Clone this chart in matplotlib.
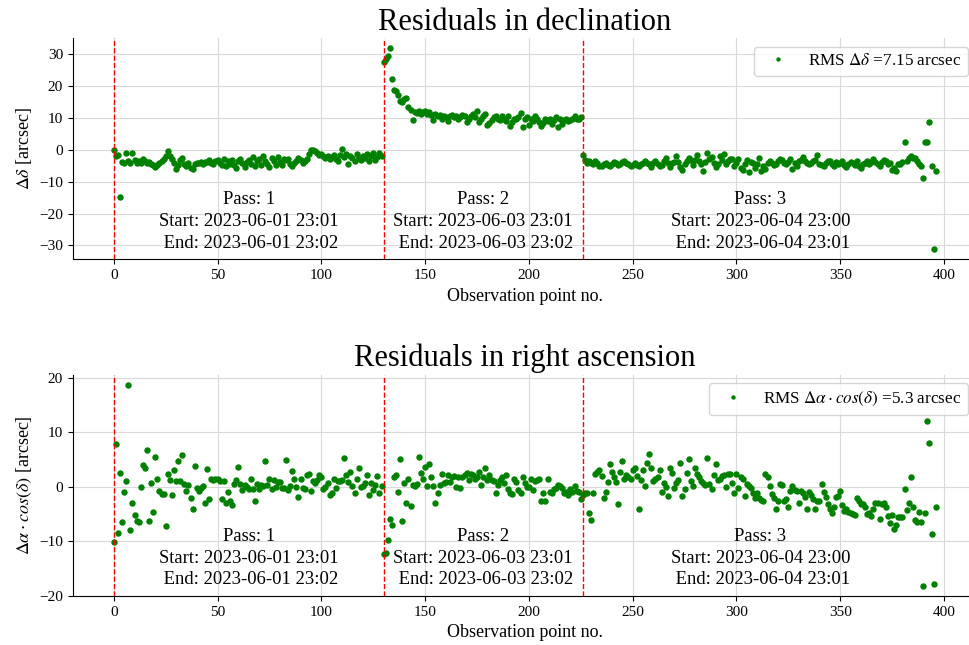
import numpy as np
import matplotlib
matplotlib.use('Agg')
import matplotlib.pyplot as plt
from matplotlib.ticker import MultipleLocator

plt.rcParams['font.family'] = ['Liberation Serif', 'DejaVu Serif']
plt.rcParams['mathtext.fontset'] = 'stix'

# pass boundaries (observation index where each pass starts)
pass_starts = [0, 130, 226]
pass_names = ['1', '2', '3']
pass_start_times = ['2023-06-01 23:01', '2023-06-03 23:01', '2023-06-04 23:00']
pass_end_times = ['2023-06-01 23:02', '2023-06-03 23:02', '2023-06-04 23:01']

# residuals in declination [arcsec]
dec_pass1 = [0.0, -2.1, -1.6, -14.8, -3.8, -4.3, -0.9, -3.6, -4.0, -1.0,
             -3.2, -4.2, -3.6, -4.0, -3.0, -3.4, -4.1, -3.7, -4.4, -4.8,
             -5.5, -4.8, -4.1, -3.6, -3.0, -1.8, -0.4, -2.0, -2.8, -4.0,
             -5.9, -4.9, -3.2, -2.5, -4.4, -5.0, -4.2, -5.8, -6.0, -4.6,
             -4.1, -4.3, -3.8, -4.5, -3.9, -3.7, -3.3, -4.0, -4.4, -3.6,
             -3.3, -4.2, -4.7, -3.0, -5.0, -3.5, -4.6, -3.2, -4.8, -5.6,
             -3.5, -2.9, -4.2, -5.3, -3.8, -3.1, -4.5, -2.4, -5.0, -3.4,
             -2.8, -4.8, -1.8, -3.6, -4.6, -5.5, -2.6, -3.5, -4.8, -2.3,
             -3.7, -4.9, -2.8, -3.3, -3.0, -4.5, -5.0, -4.2, -3.5, -2.7,
             -3.2, -4.0, -3.6, -2.8, -1.2, -0.2, 0.0, -0.5, -0.9, -1.5,
             -1.2, -2.1, -2.6, -1.8, -3.0, -2.4, -1.5, -2.8, -3.4, -1.6,
             0.3, -2.2, -1.3, -4.5, -2.0, -2.7, -3.6, -1.2, -2.5, -3.2,
             -1.8, -2.6, -1.4, -3.6, -2.0, -1.1, -3.1, -2.4, -1.0, -1.9]
dec_pass2 = [27.4, 28.5, 29.3, 31.9, 22.2, 18.8, 18.5, 17.2, 15.4, 15.1,
             15.9, 16.1, 13.3, 12.5, 9.4, 11.9, 11.5, 12.3, 11.2, 11.7,
             12.3, 11.2, 11.7, 10.9, 9.4, 11.2, 10.5, 10.9, 9.8, 10.5,
             10.2, 9.1, 10.5, 10.9, 10.2, 10.5, 9.6, 10.2, 10.9, 10.5,
             8.6, 9.8, 10.5, 11.2, 10.2, 12.3, 8.6, 9.6, 10.5, 11.2,
             7.7, 8.4, 9.4, 10.2, 10.5, 9.8, 9.4, 10.5, 9.6, 9.1,
             10.5, 7.5, 8.6, 9.6, 9.8, 10.2, 11.5, 7.0, 9.6, 10.2,
             7.7, 9.8, 9.1, 10.5, 9.8, 8.8, 7.5, 8.4, 9.6, 9.1,
             9.8, 8.1, 9.4, 10.2, 7.0, 9.6, 8.1, 9.4, 9.8, 9.1,
             9.4, 9.6, 10.5, 9.6, 9.6, 10.2]
dec_pass3 = [-1.7, -3.3, -4.0, -3.5, -4.2, -4.6, -3.6, -4.3, -5.0, -5.1,
             -4.6, -4.2, -4.8, -5.0, -4.4, -3.8, -4.2, -4.9, -4.5, -3.9,
             -3.5, -4.2, -4.6, -5.0, -4.7, -4.3, -4.8, -5.2, -4.5, -4.1,
             -3.6, -4.0, -4.6, -5.4, -4.2, -3.6, -4.4, -5.1, -4.8, -3.4,
             -2.5, -4.2, -5.5, -4.0, -3.7, -1.9, -3.8, -5.5, -6.3, -4.4,
             -3.4, -2.7, -3.2, -4.8, -3.3, -1.5, -3.5, -4.5, -6.6, -3.8,
             -1.0, -2.8, -2.2, -4.2, -5.3, -4.4, -2.1, -3.2, -1.4, -4.6,
             -3.5, -2.8, -2.9, -5.0, -4.2, -3.0, -5.6, -6.3, -4.6, -3.3,
             -6.9, -3.7, -4.3, -5.8, -4.4, -2.7, -6.6, -5.0, -5.9, -4.2,
             -3.5, -4.2, -4.8, -4.4, -3.5, -2.9, -3.3, -4.0, -4.6, -3.7,
             -3.0, -6.1, -4.1, -5.2, -3.6, -3.1, -2.4, -3.5, -4.0, -4.6,
             -4.3, -3.4, -3.1, -1.7, -4.4, -4.7, -5.0, -4.2, -3.4, -3.6,
             -4.5, -5.1, -3.9, -4.6, -4.2, -3.5, -4.9, -5.4, -4.4, -3.9,
             -4.2, -4.8, -3.6, -5.1, -5.8, -4.6, -4.0, -3.5, -4.5, -3.8,
             -3.0, -3.9, -4.5, -5.0, -3.8, -3.3, -3.6, -4.4, -4.0, -6.4,
             -5.8, -6.6, -4.5, -4.6, -3.9, 2.3, -3.4, -2.7, -1.9, -2.5,
             -2.6, -3.6, -4.4, -5.2, -9.0, 2.5, 2.3, 8.8, -5.2, -31.2,
             -6.6]

# residuals in right ascension * cos(dec) [arcsec]
ra_pass1 = [-10.2, 7.9, -8.4, 2.6, -6.5, -1.0, 1.0, 18.7, -7.9, -3.0,
            -5.1, -6.2, -6.5, -0.1, 4.0, 3.5, 6.8, -6.2, 0.7, -4.6,
            5.5, 1.5, -0.8, -1.4, -1.4, -7.2, 2.3, 1.3, -1.5, 3.0,
            1.1, 4.8, 1.0, 5.8, 0.5, -0.8, 0.3, -2.0, -4.1, 3.8,
            -0.3, -0.7, -0.2, 0.1, -3.0, 3.2, -2.3, 1.5, 1.2, 1.5,
            1.5, 1.1, -2.3, 1.0, -3.0, -1.0, -2.7, -3.4, 0.5, 1.3,
            3.7, 0.5, -0.6, 0.3, -0.1, -0.5, 1.5, -0.5, -2.6, 0.5,
            -0.5, 0.3, 0.1, 4.8, 0.3, 1.5, -0.5, 1.3, 0.0, 0.9,
            0.9, -0.3, -0.2, 4.9, -0.6, 0.1, 2.9, 1.5, 0.0, -1.8,
            1.4, -0.3, -0.5, 2.1, 2.4, -0.8, 1.1, 0.6, 1.3, 2.1,
            1.7, -0.5, 0.0, 0.6, -1.5, -1.2, 1.5, -0.2, 1.1, 1.0,
            1.2, 5.3, 2.1, 0.9, 2.7, 0.1, -1.1, 1.5, 3.4, 0.0,
            0.1, 0.7, 2.1, -1.5, 0.6, -0.6, 0.4, 2.0, -1.2, 0.2]
ra_pass2 = [-12.4, -12.1, -9.8, -6.0, -7.1, 1.8, 2.1, -0.9, 5.1, -6.3,
            0.7, -2.9, 1.4, -3.5, 0.3, 0.1, 0.5, 5.4, 2.6, 1.5,
            3.7, 0.1, 4.1, 1.8, 0.1, -3.0, -1.1, 0.3, 2.4, 0.6,
            0.9, 2.1, 0.9, 1.7, 2.0, 0.0, 1.7, -0.2, 1.8, 2.1,
            2.6, 1.3, 2.4, 2.1, 1.5, 1.8, 2.7, 0.3, 1.8, 3.5,
            1.2, 2.1, 1.2, 1.1, -1.1, 0.3, 1.3, 1.7, 0.7, 2.1,
            -0.5, -1.1, -1.3, 1.5, 0.9, -0.6, -1.1, 1.7, 0.6, -0.1,
            0.0, 1.5, -0.6, 1.1, 1.3, 1.5, -2.6, -1.1, -2.6, 1.5,
            -0.9, -1.1, -0.5, -0.3, 0.3, 0.1, -0.3, -1.2, -0.9, -1.5,
            -0.5, -0.9, 0.1, -0.8, -0.9, -2.3]
ra_pass3 = [-1.5, -1.1, -1.2, -4.8, -6.1, -1.2, 2.4, 2.7, 3.0, 2.0,
            -2.0, -0.9, 0.9, 4.1, 2.7, 1.8, 0.9, -3.2, 2.7, 4.8,
            1.4, 2.1, 1.7, 1.5, 3.0, 3.4, 2.0, -4.0, 1.3, 3.0,
            0.1, 4.4, 6.0, 3.5, 1.1, 1.5, 1.8, 3.0, -1.0, 0.6,
            0.0, -1.7, 3.5, 2.6, -0.3, 0.7, 1.3, 4.4, -1.7, -0.5,
            2.6, 5.0, 1.1, 0.1, 3.4, 2.3, 1.7, 1.1, 0.7, 0.3,
            5.2, 0.5, -0.5, 2.1, 4.1, 1.2, 1.5, 2.0, 2.1, -0.1,
            2.3, 2.4, 0.6, -1.1, 2.4, -0.3, 1.8, 1.5, -1.7, 0.5,
            0.1, -0.3, -1.1, -2.0, -1.1, -2.1, -2.4, -2.7, 2.4, 1.7,
            0.1, -1.3, -2.1, -4.1, -2.6, 0.5, 0.3, -2.7, -2.3, -3.7,
            -0.7, 0.1, -0.6, -0.7, -2.9, -0.7, -1.1, -1.8, -4.0, -0.9,
            -1.5, -2.3, -4.1, -2.6, -2.6, 0.5, -0.9, -1.8, -3.2, -4.0,
            -4.9, -3.7, -1.8, -1.7, -0.8, -3.4, -4.4, -4.1, -4.6, -4.9,
            -5.0, -5.2, -2.0, -2.7, -3.2, -3.2, -3.7, -5.0, -4.8, -5.4,
            -4.0, -2.9, -3.0, -6.0, -3.2, -2.9, -3.7, -5.4, -6.6, -5.2,
            -7.8, -7.0, -5.6, -5.5, -5.5, -0.5, -4.3, -2.9, 1.7, -3.8,
            -6.1, -6.4, -4.6, -6.4, -18.2, -4.9, 12.1, 8.0, -8.7, -17.8,
            -3.7]

dec_rms = '7.15'
ra_rms = '5.3'


def draw_panel(ax, values, title, ylabel, legend_label):
    idx = np.arange(len(values))
    ax.plot(idx, values, 'o', color='green', ms=3.6, label=legend_label)
    for k, start in enumerate(pass_starts):
        ax.axvline(start, color='red', ls='--', lw=1)
        end = pass_starts[k + 1] if k + 1 < len(pass_starts) else len(values)
        txt = 'Pass: %s\nStart: %s\n End: %s' % (pass_names[k], pass_start_times[k], pass_end_times[k])
        ax.text((start + end) / 2, 0.035, txt, transform=ax.get_xaxis_transform(),
                ha='center', va='bottom', fontsize=13.4, linespacing=1.35)
    ax.set_xlim(-19.8, 415.8)
    ax.set_title(title, fontsize=22)
    ax.set_xlabel('Observation point no.', fontsize=13)
    ax.set_ylabel(ylabel, fontsize=13)
    ax.tick_params(labelsize=11)
    ax.grid(True, color='#d9d9d9', lw=0.8)
    ax.set_axisbelow(True)
    ax.spines['top'].set_visible(False)
    ax.spines['right'].set_visible(False)
    ax.legend(loc='upper right', fontsize=12.3, markerscale=0.6)


fig = plt.figure(figsize=(9.69, 6.45), dpi=100)
ax1 = fig.add_axes([0.075, 0.598, 0.933, 0.343])
ax2 = fig.add_axes([0.075, 0.076, 0.933, 0.343])

dec = dec_pass1 + dec_pass2 + dec_pass3
ra = ra_pass1 + ra_pass2 + ra_pass3

draw_panel(ax1, dec, 'Residuals in declination', r'$\Delta\delta$ [arcsec]',
           r'RMS $\Delta\delta$ =' + dec_rms + ' arcsec')
ax1.yaxis.set_major_locator(MultipleLocator(10))
draw_panel(ax2, ra, 'Residuals in right ascension', r'$\Delta\alpha \cdot cos(\delta)$ [arcsec]',
           r'RMS $\Delta\alpha \cdot cos(\delta)$ =' + ra_rms + ' arcsec')

fig.savefig('out.png', dpi=100)
